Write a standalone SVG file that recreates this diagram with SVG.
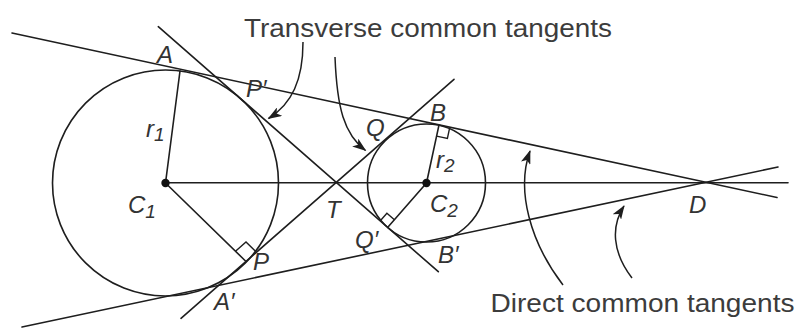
<svg xmlns="http://www.w3.org/2000/svg" width="799" height="328" viewBox="0 0 799 328">
<defs>
<style>
.ln{fill:none;stroke:#1e1e1e;stroke-width:1.6;stroke-linecap:round}
.ra{fill:none;stroke:#1e1e1e;stroke-width:1.4}
.lb{font-family:"Liberation Sans",Arial,sans-serif;font-style:italic;font-size:24px;fill:#333333}
.sb{font-size:19px}
.cap{font-family:"Liberation Sans",Arial,sans-serif;font-size:26.5px;fill:#3c3c3c}
.ar{fill:none;stroke:#1e1e1e;stroke-width:1.5}
</style>
<marker id="ah" viewBox="0 0 14 10" refX="13" refY="5" markerWidth="14" markerHeight="10" markerUnits="userSpaceOnUse" orient="auto">
<path d="M0,0 L14,5 L0,10 L3.5,5 z" fill="#1e1e1e"/>
</marker>
</defs>
<rect width="799" height="328" fill="#ffffff"/>

<g id="circles">
<circle id="circle1" class="ln" cx="165.5" cy="183" r="113"/>
<circle id="circle2" class="ln" cx="426.5" cy="183" r="59"/>
</g>

<g id="connectors">
<line class="ln" x1="165.5" y1="182.8" x2="788" y2="182.8"/>
<line class="ln" x1="12" y1="33" x2="777" y2="197.5"/>
<line class="ln" x1="22" y1="327" x2="778" y2="167"/>
<line class="ln" x1="158.3" y1="26.7" x2="438.3" y2="271.7"/>
<line class="ln" x1="181" y1="318.3" x2="454" y2="79.3"/>
<line class="ln" x1="165.5" y1="183" x2="180" y2="71"/>
<line class="ln" x1="165.5" y1="183" x2="245.5" y2="261"/>
<line class="ln" x1="426.5" y1="183" x2="438.9" y2="125.3"/>
<line class="ln" x1="426.5" y1="183" x2="387.8" y2="227.3"/>
<path class="ra" d="M235.5,251.2 L246,242 L256,251.8"/>
<path class="ra" d="M449.7,127.6 L447.4,138.4 L436.6,136.1"/>
<path class="ra" d="M394.4,219.8 L386.9,213.2 L380.3,220.7"/>
<circle cx="165.5" cy="183" r="4.2" fill="#111"/>
<circle cx="426.5" cy="183" r="4.2" fill="#111"/>
<path class="ar" d="M303,42 C303,80 292,104 268.5,118.5" marker-end="url(#ah)"/>
<path class="ar" d="M335,57 C337,108 344,134 365.5,150.5" marker-end="url(#ah)"/>
<path class="ar" d="M563,285 C530,242 516,190 530,151" marker-end="url(#ah)"/>
<path class="ar" d="M632,278 C612,252 611,226 624,206" marker-end="url(#ah)"/>
</g>

<g id="labels">
<text class="lb" x="157" y="63">A</text>
<text class="lb" x="246" y="97">P′</text>
<text class="lb" x="146" y="137">r<tspan class="sb" dy="4">1</tspan></text>
<text class="lb" x="128" y="213">C<tspan class="sb" dy="5">1</tspan></text>
<text class="lb" x="326" y="218">T</text>
<text class="lb" x="355" y="248">Q′</text>
<text class="lb" x="253" y="270">P</text>
<text class="lb" x="214" y="310">A′</text>
<text class="lb" x="366" y="136">Q</text>
<text class="lb" x="430" y="121">B</text>
<text class="lb" x="436" y="168">r<tspan class="sb" dy="4">2</tspan></text>
<text class="lb" x="430" y="211.5">C<tspan class="sb" dy="5">2</tspan></text>
<text class="lb" x="438" y="263">B′</text>
<text class="lb" x="689" y="213">D</text>
</g>

<g id="captions">
<text class="cap" x="244" y="37" textLength="368" lengthAdjust="spacingAndGlyphs">Transverse common tangents</text>
<text class="cap" x="490.5" y="311.5" textLength="304" lengthAdjust="spacingAndGlyphs">Direct common tangents</text>
</g>
</svg>
